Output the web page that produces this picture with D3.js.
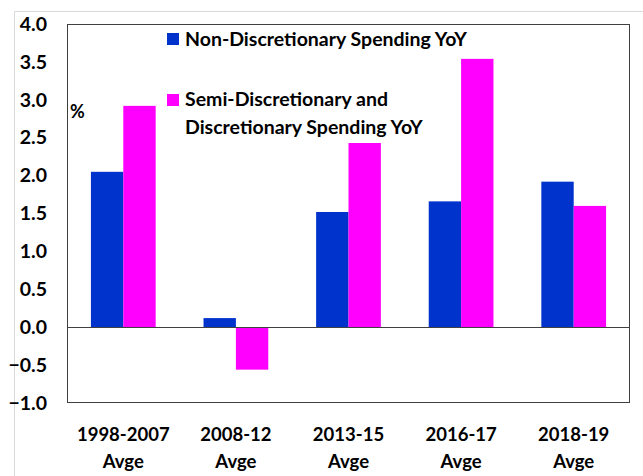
<!DOCTYPE html>
<html>
<head>
<meta charset="utf-8">
<script src="https://cdn.jsdelivr.net/npm/d3@7"></script>
<style>
  body { margin: 0; background: #fff; }
  svg text { font-family: Lato, "Open Sans", sans-serif; font-weight: 700; fill: #000; }
</style>
</head>
<body>
<div id="chart"></div>
<script>
// chart data
const categories = ["1998-2007 Avge", "2008-12 Avge", "2013-15 Avge", "2016-17 Avge", "2018-19 Avge"];
const seriesNames = ["Non-Discretionary Spending YoY", "Semi-Discretionary and Discretionary Spending YoY"];
const nonDiscretionary = [2.05, 0.12, 1.52, 1.66, 1.92];
const semiDiscretionary = [2.92, -0.56, 2.43, 3.54, 1.60];
const yTicks = [-1.0, -0.5, 0.0, 0.5, 1.0, 1.5, 2.0, 2.5, 3.0, 3.5, 4.0];
const colors = ["#0033cc", "#ff00ff"];

// SVG definitions
const W = 643, H = 476;
const margin = {top: 24, right: 13, bottom: 73, left: 67};
const width = W - margin.left - margin.right;
const height = H - margin.top - margin.bottom;

const svg = d3.select("#chart").append("svg")
  .attr("width", W)
  .attr("height", H);

// light outer frame
svg.append("path")
  .attr("d", `M14.5,${H} V11.5 H${W}`)
  .attr("fill", "none")
  .attr("stroke", "#d9d9d9");

const g = svg.append("g")
  .attr("transform", `translate(${margin.left}, ${margin.top})`);

// scales
const xScale = d3.scaleBand()
  .domain(categories)
  .range([0, width])
  .paddingInner(0.425)
  .paddingOuter(0.2125);

const xSub = d3.scaleBand()
  .domain([0, 1])
  .range([0, xScale.bandwidth()]);

const yScale = d3.scaleLinear()
  .domain([-1, 4])
  .range([height, 0]);

// bars
const rows = categories.map((c, i) => [nonDiscretionary[i], semiDiscretionary[i]]);
const groups = g.selectAll(".grp")
  .data(rows)
  .join("g")
  .attr("class", "grp")
  .attr("transform", (d, i) => `translate(${xScale(categories[i])},0)`);

groups.selectAll("rect")
  .data(d => d.map((v, k) => ({v, k})))
  .join("rect")
  .attr("x", d => xSub(d.k))
  .attr("width", xSub.bandwidth())
  .attr("y", d => yScale(Math.max(0, d.v)))
  .attr("height", d => Math.abs(yScale(d.v) - yScale(0)))
  .attr("fill", d => colors[d.k]);

// zero line
g.append("line")
  .attr("x1", 0).attr("x2", width)
  .attr("y1", Math.round(yScale(0)) + 0.5)
  .attr("y2", Math.round(yScale(0)) + 0.5)
  .attr("stroke", "#404040");

// plot border
g.append("rect")
  .attr("x", 0.5).attr("y", 0.5)
  .attr("width", width - 1).attr("height", height - 1)
  .attr("fill", "none")
  .attr("stroke", "#404040");

// y axis
const yAxis = g.append("g")
  .call(d3.axisLeft(yScale).tickValues(yTicks).tickFormat(d3.format(".1f")).tickSize(0).tickPadding(20));
yAxis.select(".domain").remove();
yAxis.selectAll("text")
  .style("font-family", "Lato, sans-serif")
  .attr("font-size", 19.5)
  .attr("font-weight", 700);

// x axis labels (two lines)
const xLabels = g.append("g")
  .selectAll("text")
  .data(categories)
  .join("text")
  .attr("text-anchor", "middle")
  .attr("font-size", 18.5)
  .attr("transform", d => `translate(${xScale(d) + xScale.bandwidth() / 2}, ${height + 38})`);
xLabels.each(function(d) {
  const parts = d.split(" ");
  d3.select(this).selectAll("tspan")
    .data(parts)
    .join("tspan")
    .attr("x", 0)
    .attr("dy", (p, j) => j === 0 ? 0 : 27)
    .text(p => p);
});

// percent label
g.append("text")
  .attr("x", 3)
  .attr("y", 94)
  .attr("font-size", 18)
  .text("%");

// legend
const legend = g.append("g").attr("transform", "translate(100, 9)");
legend.append("rect").attr("x", 0).attr("y", 0).attr("width", 12).attr("height", 12).attr("fill", colors[0]);
legend.append("text").attr("x", 18).attr("y", 13).attr("font-size", 19.5).text(seriesNames[0]);
legend.append("rect").attr("x", 0).attr("y", 61).attr("width", 12).attr("height", 12).attr("fill", colors[1]);
legend.append("text").attr("x", 18).attr("y", 73).attr("font-size", 19.5).text("Semi-Discretionary and");
legend.append("text").attr("x", 18).attr("y", 101).attr("font-size", 19.5).text("Discretionary Spending YoY");
</script>
</body>
</html>
